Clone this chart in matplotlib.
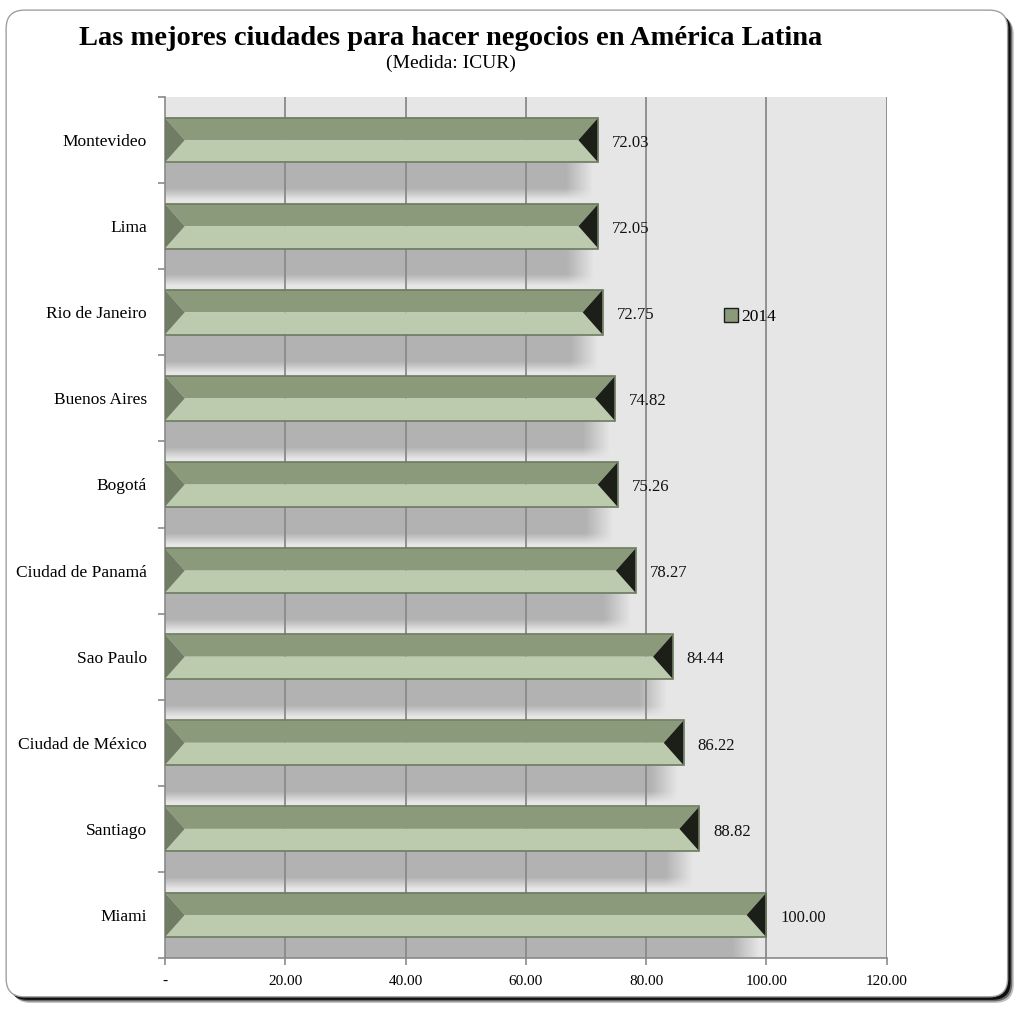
import matplotlib
matplotlib.use("Agg")
import matplotlib.pyplot as plt
import numpy as np
from matplotlib.patches import Polygon, FancyBboxPatch, Patch

# datos (de arriba hacia abajo)
CIUDADES = ["Montevideo", "Lima", "Rio de Janeiro", "Buenos Aires", "Bogotá",
            "Ciudad de Panamá", "Sao Paulo", "Ciudad de México", "Santiago", "Miami"]
ICUR = [72.03, 72.05, 72.75, 74.82, 75.26, 78.27, 84.44, 86.22, 88.82, 100.00]
X_TICKS = [0, 20, 40, 60, 80, 100, 120]
X_LABELS = ["-", "20.00", "40.00", "60.00", "80.00", "100.00", "120.00"]
SERIE = "2014"

TOP_C = "#8b9a7b"
BOT_C = "#bccaae"
LEFT_C = "#707d64"
RIGHT_C = "#1c1e18"
EDGE_C = "#6d7a60"
SHADOW_C = np.array([0.70, 0.70, 0.70])
BG_C = np.array([0.902, 0.902, 0.902])

plt.rcParams["font.family"] = ["Liberation Serif", "DejaVu Serif"]

fig = plt.figure(figsize=(10.24, 10.11), dpi=100)

# marco redondeado con sombra
for k, a in enumerate([0.25, 0.45, 0.85]):
    off = 0.006 - k * 0.0015
    fig.patches.append(FancyBboxPatch((0.006 + off, 0.014 - off), 0.978, 0.976,
                                      boxstyle="round,pad=0,rounding_size=0.018",
                                      transform=fig.transFigure, facecolor="black",
                                      edgecolor="none", alpha=a, zorder=-3))
fig.patches.append(FancyBboxPatch((0.006, 0.014), 0.978, 0.976,
                                  boxstyle="round,pad=0,rounding_size=0.018",
                                  transform=fig.transFigure, facecolor="white",
                                  edgecolor="#a0a0a0", lw=1, zorder=-2))

ax = fig.add_axes([0.161, 0.0524, 0.705, 0.8516])
ax.set_zorder(2)
ax.set_facecolor(BG_C)
ax.set_xlim(0, 120)
ax.set_ylim(len(CIUDADES) - 0.5, -0.5)

half = 0.26
d = 3.3  # profundidad del bisel en unidades del eje x

for i, v in enumerate(ICUR):
    # sombra difusa debajo de la barra
    w = v * 0.99
    nx, ny = 200, 40
    fx = np.clip((w - np.linspace(0, w, nx)) / 4.5, 0, 1)
    yy = np.linspace(0, 1, ny)
    fy = np.clip((1 - yy) / 0.3, 0, 1)
    alpha = np.outer(fy, fx)
    img = np.ones((ny, nx, 4))
    img[..., :3] = SHADOW_C
    img[..., 3] = alpha
    ax.imshow(img, extent=(0, w, i + 0.70, i + half), aspect="auto",
              interpolation="bilinear", zorder=1)

    t, c, b = i - half, i, i + half
    ax.add_patch(Polygon([(0, t), (v, t), (v - d, c), (d, c)], closed=True,
                         facecolor=TOP_C, edgecolor="none", zorder=3))
    ax.add_patch(Polygon([(d, c), (v - d, c), (v, b), (0, b)], closed=True,
                         facecolor=BOT_C, edgecolor="none", zorder=3))
    ax.add_patch(Polygon([(0, t), (d, c), (0, b)], closed=True,
                         facecolor=LEFT_C, edgecolor="none", zorder=3))
    ax.add_patch(Polygon([(v, t), (v - d, c), (v, b)], closed=True,
                         facecolor=RIGHT_C, edgecolor="none", zorder=3))
    ax.add_patch(Polygon([(0, t), (v, t), (v, b), (0, b)], closed=True,
                         facecolor="none", edgecolor=EDGE_C, lw=1.2, zorder=4))
    ax.annotate(f"{v:.2f}", xy=(v, i), xytext=(10, -2), textcoords="offset points",
                ha="left", va="center", fontsize=12, color="#111111")

# rejilla vertical
for xv in X_TICKS[1:]:
    ax.axvline(xv, color="#8a8a8a", lw=1.3, zorder=2)

for s in ["top", "right"]:
    ax.spines[s].set_visible(False)
ax.spines["left"].set_color("#8a8a8a")
ax.spines["bottom"].set_color("#8a8a8a")
ax.spines["left"].set_linewidth(1.2)
ax.spines["bottom"].set_linewidth(1.2)

ax.set_yticks(range(len(CIUDADES)))
ax.set_yticklabels(CIUDADES, fontsize=12.5)
ax.set_yticks(np.arange(-0.5, len(CIUDADES)), minor=True)
ax.tick_params(axis="y", which="major", length=0, pad=13)
ax.tick_params(axis="y", which="minor", length=5, color="#8a8a8a", width=1.2)

ax.set_xticks(X_TICKS)
ax.set_xticklabels(X_LABELS, fontsize=11)
ax.tick_params(axis="x", length=5, color="#8a8a8a", width=1.2, pad=7)

ax.legend(handles=[Patch(facecolor=TOP_C, edgecolor=RIGHT_C, lw=1)], labels=[SERIE],
          loc="center left", bbox_to_anchor=(0.753, 0.745), frameon=False,
          handlelength=0.8, handleheight=0.8, handletextpad=0.2, fontsize=12.5)

fig.text(0.44, 0.962, "Las mejores ciudades para hacer negocios en América Latina",
         ha="center", va="center", fontsize=20.5, fontweight="bold")
fig.text(0.44, 0.937, "(Medida: ICUR)", ha="center", va="center", fontsize=14)

fig.savefig("out.png", dpi=100)
